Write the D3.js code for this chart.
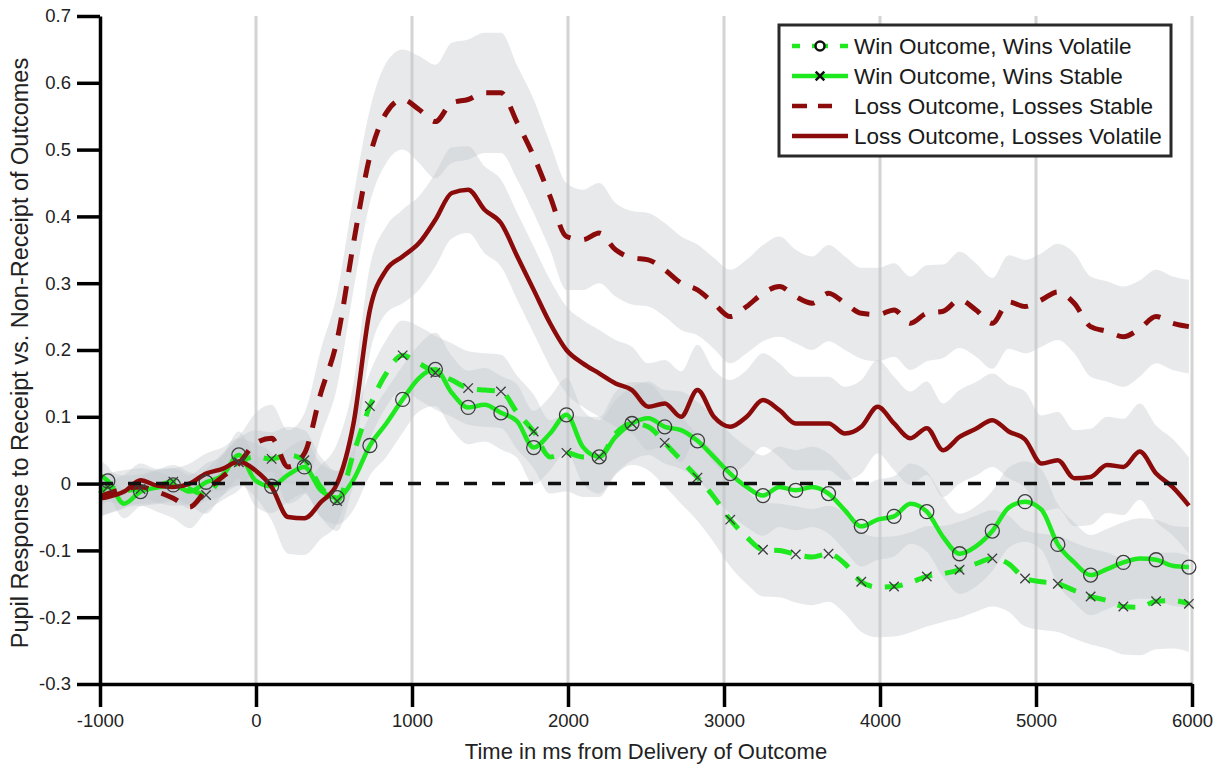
<!DOCTYPE html>
<html>
<head>
<meta charset="utf-8">
<script src="https://cdn.jsdelivr.net/npm/d3@7"></script>
<style>
  body { margin: 0; background: #fff; }
  svg { display: block; font-family: "Liberation Sans", Arial, sans-serif; }
</style>
</head>
<body>
<svg id="chart" width="1220" height="766"></svg>
<script>
// sample times (ms): first point at -1000, then the marker grid every 105 ms
var timeMs = [-1000].concat(d3.range(-950, 6000, 105));

var xTicks = [-1000, 0, 1000, 2000, 3000, 4000, 5000, 6000];
var yTicks = [-0.3, -0.2, -0.1, 0, 0.1, 0.2, 0.3, 0.4, 0.5, 0.6, 0.7];
var gridTimes = [0, 1000, 2000, 3000, 4000, 5000, 6000];

// green solid, circle markers in the plot
var winStable = [
  0.013, 0.004, -0.03, -0.012, -0.006, -0.002, -0.012, 0.002, 0.012, 0.043,
  0.005, -0.004, 0.013, 0.025, -0.01, -0.021, 0.006, 0.057, 0.09, 0.126,
  0.158, 0.171, 0.136, 0.114, 0.118, 0.106, 0.093, 0.054, 0.075, 0.103,
  0.055, 0.04, 0.07, 0.09, 0.098, 0.085, 0.08, 0.064, 0.04, 0.015,
  -0.005, -0.018, -0.005, -0.01, -0.005, -0.015, -0.04, -0.064, -0.054, -0.049,
  -0.03, -0.042, -0.08, -0.105, -0.094, -0.071, -0.036, -0.027, -0.039, -0.091,
  -0.118, -0.137, -0.128, -0.118, -0.112, -0.114, -0.123, -0.125
];
var winStableSE = [
  0.022, 0.022, 0.022, 0.022, 0.025, 0.025, 0.025, 0.028, 0.03, 0.035,
  0.038, 0.04, 0.04, 0.04, 0.04, 0.04, 0.045, 0.045, 0.05, 0.05,
  0.05, 0.055, 0.055, 0.055, 0.055, 0.055, 0.055, 0.055, 0.055, 0.055,
  0.055, 0.055, 0.055, 0.055, 0.055, 0.055, 0.058, 0.058, 0.06, 0.06,
  0.06, 0.06, 0.06, 0.06, 0.06, 0.06, 0.06, 0.06, 0.06, 0.06,
  0.06, 0.06, 0.06, 0.06, 0.06, 0.06, 0.06, 0.06, 0.06, 0.06,
  0.06, 0.06, 0.06, 0.06, 0.06, 0.06, 0.06, 0.06
];

// green dashed, x markers in the plot
var winVolatile = [
  -0.015, -0.005, -0.01, -0.008, -0.004, 0.003, -0.008, -0.017, 0.012, 0.032,
  0.04, 0.037, 0.043, 0.035, -0.005, -0.026, 0.045, 0.116, 0.165, 0.192,
  0.18, 0.166, 0.155, 0.143, 0.14, 0.138, 0.106, 0.078, 0.04, 0.046,
  0.04, 0.04, 0.075, 0.09, 0.085, 0.061, 0.035, 0.009, -0.02, -0.054,
  -0.08, -0.099, -0.1, -0.106, -0.11, -0.105, -0.12, -0.147, -0.155, -0.154,
  -0.148, -0.139, -0.135, -0.129, -0.12, -0.112, -0.12, -0.142, -0.147, -0.15,
  -0.16, -0.169, -0.175, -0.184, -0.185, -0.176, -0.175, -0.18
];
var winVolatileSE = [
  0.022, 0.022, 0.022, 0.022, 0.025, 0.025, 0.025, 0.028, 0.03, 0.035,
  0.04, 0.04, 0.042, 0.045, 0.045, 0.045, 0.048, 0.05, 0.05, 0.052,
  0.055, 0.055, 0.055, 0.055, 0.055, 0.055, 0.055, 0.055, 0.055, 0.058,
  0.06, 0.06, 0.062, 0.062, 0.065, 0.065, 0.065, 0.065, 0.068, 0.07,
  0.07, 0.07, 0.07, 0.072, 0.072, 0.072, 0.075, 0.075, 0.075, 0.075,
  0.075, 0.075, 0.072, 0.072, 0.072, 0.072, 0.072, 0.072, 0.072, 0.072,
  0.072, 0.072, 0.072, 0.072, 0.072, 0.072, 0.072, 0.072
];

// dark red dashed
var lossStable = [
  -0.02, -0.015, -0.008, -0.005, -0.012, -0.022, -0.035, -0.01, 0.01, 0.03,
  0.06, 0.068, 0.025, 0.045, 0.135, 0.215, 0.36, 0.49, 0.555, 0.575,
  0.56, 0.542, 0.57, 0.575, 0.585, 0.585, 0.54, 0.49, 0.43, 0.37,
  0.365, 0.375, 0.35, 0.338, 0.335, 0.32, 0.3, 0.29, 0.27, 0.25,
  0.265, 0.285, 0.295, 0.28, 0.27, 0.285, 0.27, 0.255, 0.253, 0.26,
  0.24, 0.255, 0.258, 0.275, 0.26, 0.24, 0.272, 0.265, 0.275, 0.287,
  0.27, 0.235, 0.228, 0.22, 0.232, 0.25, 0.24, 0.235
];
var lossStableSE = [
  0.03, 0.03, 0.028, 0.028, 0.03, 0.03, 0.032, 0.032, 0.035, 0.04,
  0.045, 0.05, 0.055, 0.06, 0.065, 0.07, 0.07, 0.07, 0.075, 0.075,
  0.08, 0.085, 0.09, 0.09, 0.09, 0.09, 0.085, 0.085, 0.08, 0.08,
  0.075, 0.075, 0.07, 0.07, 0.07, 0.07, 0.07, 0.068, 0.068, 0.07,
  0.07, 0.072, 0.075, 0.07, 0.07, 0.072, 0.07, 0.068, 0.07, 0.07,
  0.07, 0.072, 0.07, 0.072, 0.07, 0.068, 0.07, 0.07, 0.07, 0.072,
  0.075, 0.075, 0.075, 0.075, 0.072, 0.07, 0.07, 0.07
];

// dark red solid
var lossVolatile = [
  -0.022, -0.02, -0.012, 0.005, -0.003, -0.005, 0.0, 0.015, 0.022, 0.033,
  0.02, -0.005, -0.05, -0.052, -0.028, 0.0, 0.09, 0.26, 0.32, 0.34,
  0.36, 0.395, 0.435, 0.44, 0.41, 0.39, 0.34, 0.29, 0.24, 0.2,
  0.18, 0.165, 0.15, 0.14, 0.115, 0.12, 0.1, 0.14, 0.1, 0.085,
  0.1, 0.125, 0.11, 0.09, 0.09, 0.09, 0.075, 0.085, 0.115, 0.09,
  0.068, 0.083, 0.05, 0.07, 0.082, 0.095, 0.078, 0.066, 0.03, 0.035,
  0.008, 0.01, 0.028, 0.025, 0.048, 0.015, -0.005, -0.033
];
var lossVolatileSE = [
  0.025, 0.025, 0.025, 0.025, 0.025, 0.028, 0.03, 0.03, 0.032, 0.035,
  0.04, 0.05, 0.055, 0.055, 0.055, 0.06, 0.06, 0.065, 0.065, 0.07,
  0.07, 0.07, 0.068, 0.065, 0.065, 0.065, 0.065, 0.065, 0.065, 0.065,
  0.065, 0.065, 0.065, 0.065, 0.065, 0.065, 0.068, 0.068, 0.07, 0.07,
  0.07, 0.07, 0.07, 0.07, 0.07, 0.07, 0.07, 0.07, 0.07, 0.07,
  0.07, 0.07, 0.07, 0.07, 0.07, 0.07, 0.07, 0.072, 0.072, 0.072,
  0.072, 0.072, 0.072, 0.072, 0.072, 0.072, 0.072, 0.072
];

var legendLabels = [
  "Win Outcome, Wins Volatile",
  "Win Outcome, Wins Stable",
  "Loss Outcome, Losses Stable",
  "Loss Outcome, Losses Volatile"
];

var green = "#1ee81e";
var darkRed = "#8b0a0a";
var markerGrey = "#3c3c3c";

var margin = {left: 100, right: 28, top: 16, bottom: 82};
var width = 1220, height = 766;

var svg = d3.select("#chart");

var x = d3.scaleLinear().domain([-1000, 6000]).range([margin.left, width - margin.right]);
var y = d3.scaleLinear().domain([-0.3, 0.7]).range([height - margin.bottom, margin.top]);

function toPoints(values, se) {
  return values.map(function(v, i) {
    return {t: timeMs[i], v: v, se: se[i], i: i};
  });
}

var series = [
  {name: "winStable", pts: toPoints(winStable, winStableSE), color: green, dash: null, width: 4.5},
  {name: "winVolatile", pts: toPoints(winVolatile, winVolatileSE), color: green, dash: "18,13", width: 5},
  {name: "lossStable", pts: toPoints(lossStable, lossStableSE), color: darkRed, dash: "18,14", width: 5},
  {name: "lossVolatile", pts: toPoints(lossVolatile, lossVolatileSE), color: darkRed, dash: null, width: 4.5}
];

// grid lines
svg.append("g")
  .selectAll("line")
  .data(gridTimes)
  .enter()
  .append("line")
    .attr("x1", function(d) { return x(d); })
    .attr("x2", function(d) { return x(d); })
    .attr("y1", y(0.7))
    .attr("y2", y(-0.3))
    .attr("stroke", "#d4d4d4")
    .attr("stroke-width", 3);

// confidence bands
var band = d3.area()
  .x(function(d) { return x(d.t); })
  .y0(function(d) { return y(d.v - d.se); })
  .y1(function(d) { return y(d.v + d.se); })
  .curve(d3.curveMonotoneX);

svg.append("g")
  .selectAll("path")
  .data([series[2], series[3], series[1], series[0]])
  .enter()
  .append("path")
    .attr("d", function(d) { return band(d.pts); })
    .attr("fill", "#c3c7cc")
    .attr("fill-opacity", 0.4);

// lines
var line = d3.line()
  .x(function(d) { return x(d.t); })
  .y(function(d) { return y(d.v); })
  .curve(d3.curveMonotoneX);

svg.append("g")
  .selectAll("path")
  .data([series[1], series[0], series[2], series[3]])
  .enter()
  .append("path")
    .attr("d", function(d) { return line(d.pts); })
    .attr("fill", "none")
    .attr("stroke", function(d) { return d.color; })
    .attr("stroke-width", function(d) { return d.width; })
    .attr("stroke-dasharray", function(d) { return d.dash; })
    .attr("stroke-linejoin", "round");

// markers every second sample
function markerPts(s) {
  return s.pts.filter(function(d) { return d.i % 2 === 1; });
}

svg.append("g")
  .selectAll("circle")
  .data(markerPts(series[0]))
  .enter()
  .append("circle")
    .attr("cx", function(d) { return x(d.t); })
    .attr("cy", function(d) { return y(d.v); })
    .attr("r", 7)
    .attr("fill", "none")
    .attr("stroke", markerGrey)
    .attr("stroke-width", 1.3);

var cross = d3.symbol().type(d3.symbolX).size(60);
svg.append("g")
  .selectAll("path")
  .data(markerPts(series[1]))
  .enter()
  .append("path")
    .attr("transform", function(d) { return "translate(" + x(d.t) + "," + y(d.v) + ")"; })
    .attr("d", cross)
    .attr("fill", "none")
    .attr("stroke", markerGrey)
    .attr("stroke-width", 1.3);

// zero reference
svg.append("line")
  .attr("x1", x(-1000))
  .attr("x2", x(5920))
  .attr("y1", y(0))
  .attr("y2", y(0))
  .attr("stroke", "#111")
  .attr("stroke-width", 3.5)
  .attr("stroke-dasharray", "13,15");

function hyphen(s) { return s.replace("\u2212", "-"); }

function styleAxis(g) {
  g.select(".domain").attr("stroke", "#000").attr("stroke-width", 3.5);
  g.selectAll(".tick line").attr("stroke", "#000").attr("stroke-width", 3.5);
  g.selectAll(".tick text").attr("fill", "#222").style("font-size", "18.5px")
    .style("font-family", "'Liberation Sans', Arial, sans-serif");
}

function renderXAxis() {
  var xAxis = d3.axisBottom(x)
    .tickValues(xTicks)
    .tickFormat(function(d) { return hyphen(d3.format("d")(d)); })
    .tickSize(23)
    .tickSizeOuter(0)
    .tickPadding(7);
  var g = svg.append("g")
    .attr("transform", "translate(0," + y(-0.3) + ")")
    .call(xAxis);
  styleAxis(g);
}

function renderYAxis() {
  var yAxis = d3.axisLeft(y)
    .tickValues(yTicks)
    .tickFormat(function(d) { return Math.abs(d) < 1e-9 ? "0" : hyphen(d3.format(".1f")(d)); })
    .tickSize(23)
    .tickSizeOuter(0)
    .tickPadding(6);
  var g = svg.append("g")
    .attr("transform", "translate(" + x(-1000) + ",0)")
    .call(yAxis);
  styleAxis(g);
}

renderXAxis();
renderYAxis();

svg.append("text")
  .attr("x", (x(-1000) + x(6000)) / 2)
  .attr("y", 759)
  .attr("text-anchor", "middle")
  .attr("fill", "#222")
  .style("font-size", "22px")
  .text("Time in ms from Delivery of Outcome");

svg.append("text")
  .attr("transform", "translate(28," + ((y(-0.3) + y(0.7)) / 2 + 3) + ") rotate(-90)")
  .attr("text-anchor", "middle")
  .attr("fill", "#222")
  .style("font-size", "23.5px")
  .text("Pupil Response to Receipt vs. Non-Receipt of Outcomes");

// legend
var legend = svg.append("g").attr("transform", "translate(779,25)");
legend.append("rect")
  .attr("width", 392)
  .attr("height", 131)
  .attr("fill", "#fff")
  .attr("stroke", "#2a2a2a")
  .attr("stroke-width", 3);

var legendStyles = [
  {color: green, dash: "8,12,16,12,8", x2: 69, marker: "circle"},
  {color: green, dash: null, x2: 69, marker: "cross"},
  {color: darkRed, dash: "15,11", x2: 53, marker: null},
  {color: darkRed, dash: null, x2: 69, marker: null}
];

var rows = legend.selectAll("g.row")
  .data(legendLabels)
  .enter()
  .append("g")
    .attr("class", "row")
    .attr("transform", function(d, i) { return "translate(0," + (21 + i * 30) + ")"; });

rows.append("line")
  .attr("x1", 13)
  .attr("x2", function(d, i) { return legendStyles[i].x2; })
  .attr("stroke", function(d, i) { return legendStyles[i].color; })
  .attr("stroke-width", 4.5)
  .attr("stroke-dasharray", function(d, i) { return legendStyles[i].dash; });

rows.filter(function(d, i) { return legendStyles[i].marker === "circle"; })
  .append("circle")
    .attr("cx", 41)
    .attr("r", 4.5)
    .attr("fill", "#fff")
    .attr("stroke", "#111")
    .attr("stroke-width", 2.5);

rows.filter(function(d, i) { return legendStyles[i].marker === "cross"; })
  .append("path")
    .attr("transform", "translate(41,0)")
    .attr("d", d3.symbol().type(d3.symbolX).size(50))
    .attr("fill", "none")
    .attr("stroke", "#111")
    .attr("stroke-width", 2.5);

rows.append("text")
  .attr("x", 75)
  .attr("dy", "0.36em")
  .attr("fill", "#1a1a1a")
  .style("font-size", "22.5px")
  .text(function(d) { return d; });
</script>
</body>
</html>
